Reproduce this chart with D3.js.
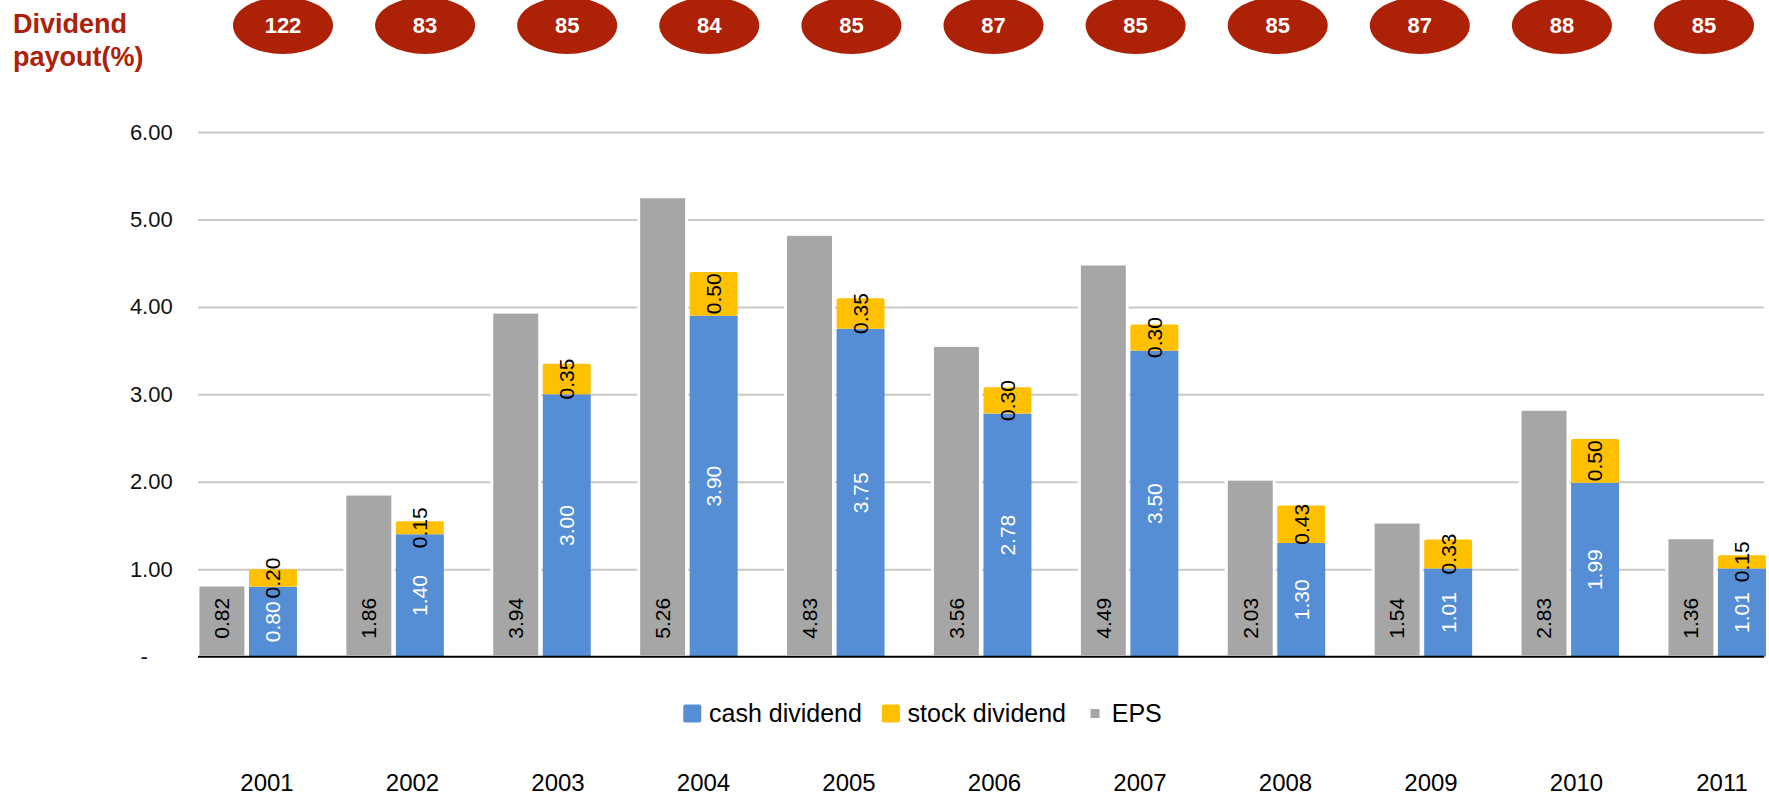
<!DOCTYPE html>
<html>
<head>
<meta charset="utf-8">
<script src="https://cdn.jsdelivr.net/npm/d3@7"></script>
<style>
    body { margin: 0; background: #fff; overflow: hidden; }
    svg { display: block; font-family: "Liberation Sans", Arial, sans-serif; }
</style>
</head>
<body>
<svg id="chart" width="1769" height="799"></svg>
<script>
// data
const years = ["2001", "2002", "2003", "2004", "2005", "2006", "2007", "2008", "2009", "2010", "2011"];
const eps = [0.82, 1.86, 3.94, 5.26, 4.83, 3.56, 4.49, 2.03, 1.54, 2.83, 1.36];
const cashDividend = [0.80, 1.40, 3.00, 3.90, 3.75, 2.78, 3.50, 1.30, 1.01, 1.99, 1.01];
const stockDividend = [0.20, 0.15, 0.35, 0.50, 0.35, 0.30, 0.30, 0.43, 0.33, 0.50, 0.15];
const payout = [122, 83, 85, 84, 85, 87, 85, 85, 87, 88, 85];
const yTicks = [0, 1, 2, 3, 4, 5, 6];

const colors = {cash: "#558ed5", stock: "#ffc000", eps: "#a6a6a6", red: "#ad2106"};

let svg = d3.select("#chart");
let plotL = 198, plotR = 1764; // plot area edges

let y = d3.scaleLinear().domain([0, 6]).range([656.7, 132]);
let x = d3.scaleBand().domain(years).range([174, 174 + 11 * 146.9]).padding(0);
let inner = d3.scaleBand().domain(["eps", "div"])
    .range([(x.bandwidth() - 99) / 2, (x.bandwidth() + 99) / 2])
    .paddingInner(0.06);
let topRow = d3.scalePoint().domain(years).range([283, 1704]); // payout bubbles
let bottomRow = d3.scalePoint().domain(years).range([267, 1722]); // year labels

let rows = years.map((yr, i) => ({year: yr, eps: eps[i], cash: cashDividend[i], stock: stockDividend[i], payout: payout[i]}));

// gridlines + y labels
let yAxis = svg.append("g")
    .attr("transform", `translate(${plotL},0)`)
    .call(d3.axisLeft(y).tickValues(yTicks).tickSize(-(plotR - plotL)).tickPadding(25.3)
        .tickFormat(d => d === 0 ? "-" : d.toFixed(2)));
yAxis.select(".domain").remove();
yAxis.selectAll(".tick line").attr("stroke", "#cdc8c3").attr("stroke-width", 2)
    .filter(d => d === 0).remove();
yAxis.selectAll(".tick text")
    .attr("fill", "#111")
    .style("font-size", "22px")
    .style("font-family", "'Liberation Sans', Arial, sans-serif")
    .filter(d => d === 0).attr("dx", -25);

// bars
let groups = svg.append("g")
    .selectAll("g")
    .data(rows)
    .join("g")
    .attr("transform", d => `translate(${x(d.year)},0)`);

groups.append("rect") // EPS
    .attr("x", inner("eps"))
    .attr("y", d => y(d.eps))
    .attr("width", inner.bandwidth())
    .attr("height", d => y(0) - y(d.eps))
    .attr("fill", colors.eps)
    .attr("stroke", "#fff")
    .attr("stroke-width", 3);

groups.append("rect") // cash dividend
    .attr("x", inner("div"))
    .attr("y", d => y(d.cash))
    .attr("width", inner.bandwidth())
    .attr("height", d => y(0) - y(d.cash))
    .attr("fill", colors.cash);

groups.append("rect") // stock dividend on top
    .attr("x", inner("div"))
    .attr("y", d => y(d.cash + d.stock))
    .attr("width", inner.bandwidth())
    .attr("height", d => y(d.cash) - y(d.cash + d.stock))
    .attr("rx", 2)
    .attr("fill", colors.stock);

// value labels, rotated
let labelFont = "21px";
groups.append("text")
    .attr("transform", d => `translate(${inner("eps") + inner.bandwidth() / 2},${y(0) - 18}) rotate(-90)`)
    .attr("dy", "0.35em")
    .attr("text-anchor", "start")
    .style("font-size", labelFont)
    .attr("fill", "#000")
    .text(d => d.eps.toFixed(2));

groups.append("text")
    .attr("transform", d => `translate(${inner("div") + inner.bandwidth() / 2},${(y(0) + y(d.cash)) / 2}) rotate(-90)`)
    .attr("dy", "0.35em")
    .attr("text-anchor", "middle")
    .style("font-size", labelFont)
    .attr("fill", "#fff")
    .text(d => d.cash.toFixed(2));

groups.append("text")
    .attr("transform", d => `translate(${inner("div") + inner.bandwidth() / 2},${(y(d.cash) + y(d.cash + d.stock)) / 2}) rotate(-90)`)
    .attr("dy", "0.35em")
    .attr("text-anchor", "middle")
    .style("font-size", labelFont)
    .attr("fill", "#000")
    .text(d => d.stock.toFixed(2));

// baseline
svg.append("line")
    .attr("x1", plotL).attr("x2", plotR)
    .attr("y1", y(0)).attr("y2", y(0))
    .attr("stroke", "#000")
    .attr("stroke-width", 2);

// title
let title = svg.append("text")
    .attr("x", 13)
    .attr("fill", colors.red)
    .style("font-size", "27px")
    .style("font-weight", "bold");
title.append("tspan").attr("x", 13).attr("y", 32.7).text("Dividend");
title.append("tspan").attr("x", 13).attr("y", 65.5).text("payout(%)");

// payout bubbles
let bubbles = svg.append("g")
    .selectAll("g")
    .data(rows)
    .join("g")
    .attr("transform", d => `translate(${topRow(d.year)},25.5)`);
bubbles.append("ellipse")
    .attr("rx", 50)
    .attr("ry", 28.5)
    .attr("fill", colors.red);
bubbles.append("text")
    .attr("text-anchor", "middle")
    .attr("dy", "0.36em")
    .attr("fill", "#fff")
    .style("font-size", "22px")
    .style("font-weight", "bold")
    .text(d => d.payout);

// legend
let legendItems = [
    {name: "cash dividend", color: colors.cash, size: 18},
    {name: "stock dividend", color: colors.stock, size: 18},
    {name: "EPS", color: colors.eps, size: 9}
];
let legend = svg.append("g").attr("transform", "translate(683.3,713.5)");
let lx = 0;
legendItems.forEach(item => {
    let g = legend.append("g").attr("transform", `translate(${lx},0)`);
    g.append("rect")
        .attr("x", (18 - item.size) / 2)
        .attr("y", -item.size / 2)
        .attr("width", item.size)
        .attr("height", item.size)
        .attr("rx", item.size > 10 ? 2 : 0)
        .attr("fill", item.color);
    let t = g.append("text")
        .attr("x", 25.7)
        .attr("dy", "0.35em")
        .attr("fill", "#000")
        .style("font-size", "25px")
        .text(item.name);
    lx += 25.7 + t.node().getComputedTextLength() + 20;
});

// year labels along the bottom
svg.append("g")
    .selectAll("text")
    .data(years)
    .join("text")
    .attr("x", d => bottomRow(d))
    .attr("y", 790.7)
    .attr("text-anchor", "middle")
    .attr("fill", "#000")
    .style("font-size", "24px")
    .text(d => d);
</script>
</body>
</html>
